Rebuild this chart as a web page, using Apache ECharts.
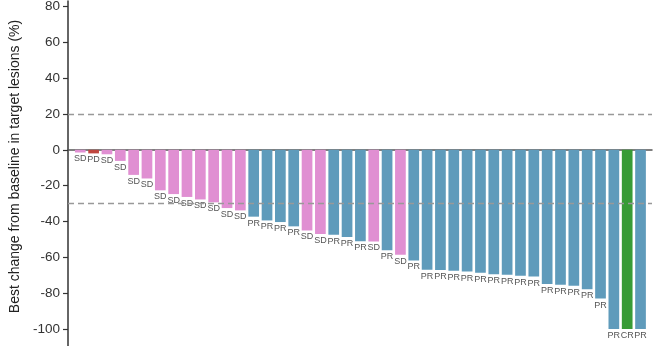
<!DOCTYPE html>
<html>
<head>
<meta charset="utf-8">
<style>
  html, body { margin: 0; padding: 0; background: #fff; }
  #chart { width: 658px; height: 346px; }
</style>
<script src="https://cdn.jsdelivr.net/npm/echarts@6/dist/echarts.min.js"></script>
</head>
<body>
<div id="chart"></div>
<script>
// Best overall response per patient, sorted by depth of response
const responses = [
  'SD','PD','SD','SD','SD','SD','SD','SD','SD','SD','SD','SD','SD',
  'PR','PR','PR','PR','SD','SD','PR','PR','PR','SD','PR','SD','PR',
  'PR','PR','PR','PR','PR','PR','PR','PR','PR','PR','PR','PR','PR','PR',
  'PR','CR','PR'
];
// Best percentage change from baseline in target lesions
const changes = [
  -1.5, -2, -2.5, -6.2, -14, -16, -22.6, -24.7, -26.3, -27.7, -29.3, -32.5, -33.8,
  -37.3, -39.4, -40.3, -42.7, -45, -47, -47.4, -48.7, -51, -51.1, -56.1, -58.6, -61.7,
  -66.9, -67.1, -67.5, -67.9, -68.6, -69.4, -69.7, -70.3, -70.7, -74.8, -75.3, -75.9, -77.8, -83,
  -100, -100, -100
];
const yTicks = [80, 60, 40, 20, 0, -20, -40, -60, -80, -100];
const thresholds = [20, -30];

const responseColors = {
  SD: '#e08fd2',
  PD: '#bf463f',
  PR: '#5f9bbb',
  CR: '#389b36'
};

const chart = echarts.init(document.getElementById('chart'), null, { renderer: 'canvas' });

const barData = changes.map((v, i) => ({
  value: [i, v],
  itemStyle: { color: responseColors[responses[i]] }
}));

chart.setOption({
  animation: false,
  grid: { left: 68, right: 6, top: 1, bottom: -1, containLabel: false, outerBoundsMode: 'none' },
  xAxis: {
    type: 'value',
    min: -0.92,
    max: 42.86,
    axisLine: { show: true, onZero: true, lineStyle: { color: '#555', width: 1.5 } },
    axisTick: { show: false },
    axisLabel: { show: false },
    splitLine: { show: false }
  },
  yAxis: {
    type: 'value',
    min: -110,
    max: 83,
    name: 'Best change from baseline in target lesions (%)',
    nameLocation: 'middle',
    nameRotate: 90,
    nameGap: 46,
    nameTextStyle: { fontFamily: 'Liberation Sans', fontSize: 14, color: '#222', padding: [0, 0, 0, 15] },
    axisLine: { show: true, onZero: false, lineStyle: { color: '#333', width: 1.5 } },
    axisTick: { show: true, length: 5, customValues: yTicks, lineStyle: { color: '#333', width: 1.2 } },
    axisLabel: {
      customValues: yTicks,
      fontFamily: 'Liberation Sans', fontSize: 13.5, color: '#333', margin: 8
    },
    splitLine: { show: false }
  },
  series: [{
    type: 'bar',
    barWidth: 10.7,
    data: barData,
    label: {
      show: true,
      position: 'bottom',
      distance: 2,
      fontFamily: 'Liberation Sans',
      fontSize: 9,
      color: '#555',
      formatter: p => responses[p.dataIndex]
    },
    markLine: {
      silent: true,
      symbol: 'none',
      label: { show: false },
      lineStyle: { color: '#999', type: [6, 4], width: 1.3 },
      data: thresholds.map(t => ({ yAxis: t }))
    }
  }]
});
</script>
</body>
</html>
